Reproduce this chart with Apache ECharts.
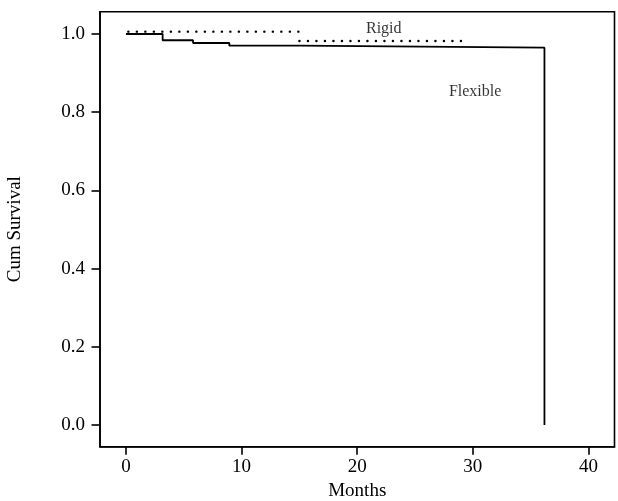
<!DOCTYPE html>
<html>
<head>
<meta charset="utf-8">
<script src="https://cdn.jsdelivr.net/npm/echarts@6/dist/echarts.min.js"></script>
<style>html,body{margin:0;padding:0;background:#fff}#c{width:618px;height:501px}</style>
</head>
<body>
<div id="c"></div>
<script>
// Step points for each survival curve (month, cumulative survival)
var flexible = [[0, 1.0], [3.17, 0.984], [5.8, 0.977], [8.94, 0.970], [14.97, 0.965], [36.2, 0.0]];
var rigidPart1 = [[0.2, 1.006], [15.0, 1.006]];
var rigidPart2 = [[15.0, 0.982], [29.7, 0.982]];
var labels = [{name: 'Rigid', value: [22.3, 1.0136]}, {name: 'Flexible', value: [30.2, 0.8517]}];
var xTicks = [0, 10, 20, 30, 40];
var yTicks = [0, 0.2, 0.4, 0.6, 0.8, 1.0];

var font = 'Liberation Serif';
var chart = echarts.init(document.getElementById('c'), null, {renderer: 'canvas'});
var dotted = {color: '#000', width: 2.4, type: [0.1, 8.4], cap: 'round'};
var axisLineStyle = {color: '#000', width: 1.6};
chart.setOption({
  animation: false,
  backgroundColor: '#fff',
  grid: {left: 100, right: 3.5, top: 11.7, bottom: 54.3, show: true, borderColor: '#000', borderWidth: 1.6,
    backgroundColor: 'transparent', containLabel: false, outerBoundsMode: 'none'},
  xAxis: {
    type: 'value', min: -2.25, max: 42.26,
    name: 'Months', nameLocation: 'middle', nameGap: 28,
    nameTextStyle: {fontFamily: font, fontSize: 19, color: '#000'},
    axisLine: {show: true, onZero: false, lineStyle: axisLineStyle},
    axisTick: {show: true, length: 8, lineStyle: axisLineStyle, customValues: xTicks},
    axisLabel: {fontFamily: font, fontSize: 19, color: '#000', margin: 11, customValues: xTicks},
    splitLine: {show: false}
  },
  yAxis: {
    type: 'value', min: -0.0555, max: 1.057,
    name: 'Cum Survival', nameLocation: 'middle', nameGap: 75, nameRotate: 90,
    nameTextStyle: {fontFamily: font, fontSize: 19, color: '#000'},
    axisLine: {show: true, onZero: false, lineStyle: axisLineStyle},
    axisTick: {show: true, length: 8.5, lineStyle: axisLineStyle, customValues: yTicks},
    axisLabel: {fontFamily: font, fontSize: 19, color: '#000', margin: 15, customValues: yTicks,
      formatter: function (v) { return v.toFixed(1); }},
    splitLine: {show: false}
  },
  series: [
    {type: 'line', name: 'Flexible', data: flexible, step: 'end', symbol: 'none',
      lineStyle: {color: '#000', width: 1.8}, z: 2},
    {type: 'line', name: 'Rigid', data: rigidPart1, symbol: 'none', lineStyle: dotted, z: 3},
    {type: 'line', name: 'Rigid2', data: rigidPart2, symbol: 'none', lineStyle: dotted, z: 3},
    {type: 'scatter', data: labels, symbolSize: 0, silent: true,
      label: {show: true, position: 'inside', formatter: '{b}', fontFamily: font, fontSize: 16, color: '#000'}}
  ]
});
</script>
</body>
</html>
